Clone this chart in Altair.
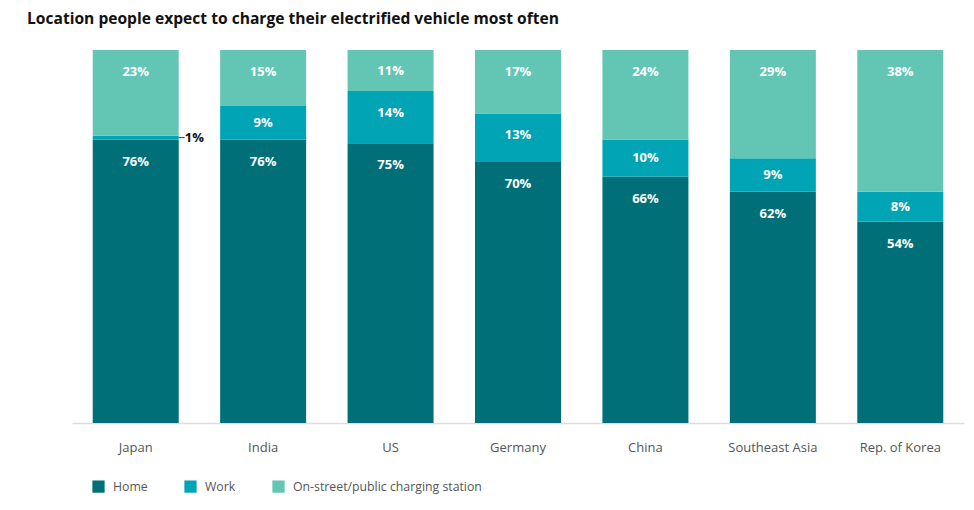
import altair as alt
import pandas as pd

countries = ["Japan", "India", "US", "Germany", "China", "Southeast Asia", "Rep. of Korea"]
home = [76, 76, 75, 70, 66, 62, 54]
work = [1, 9, 14, 13, 10, 9, 8]
public = [23, 15, 11, 17, 24, 29, 38]
categories = ["Home", "Work", "On-street/public charging station"]
colors = ["#006F78", "#00A4B4", "#63C6B5"]

rows = []
for i, c in enumerate(countries):
    base = 0
    for k, (cat, vals) in enumerate(zip(categories, [home, work, public])):
        v = vals[i]
        top = base + v
        rows.append({
            "country": c, "category": cat, "value": v, "order": k,
            "y0": base, "y1": top,
            "label": f"{v}%",
            "label_y": top - min(5.9, v / 2),
            "inside": v >= 5,
        })
        base = top
df = pd.DataFrame(rows)

x = alt.X("country:N", sort=countries, title=None,
          scale=alt.Scale(paddingInner=0.325, paddingOuter=0.1625),
          axis=alt.Axis(labelAngle=0, labelFont="Open Sans", labelFontSize=13,
                        labelColor="#555555", labelPadding=18, ticks=False,
                        domainColor="#dddddd", domainWidth=1.5))
yscale = alt.Scale(domain=[0, 100], nice=False)

bars = alt.Chart(df).mark_bar(size=86).encode(
    x=x,
    y=alt.Y("y0:Q", scale=yscale, axis=None),
    y2="y1:Q",
    color=alt.Color("category:N", scale=alt.Scale(domain=categories, range=colors),
                    sort=categories,
                    legend=alt.Legend(title=None, orient="none", direction="horizontal",
                                      legendX=20, legendY=430, symbolType="square",
                                      symbolSize=150, symbolStrokeWidth=0,
                                      labelFont="Open Sans", labelFontSize=12.3,
                                      labelColor="#555555", labelOffset=8,
                                      labelLimit=400, columnPadding=36)),
    order="order:Q",
)

labels = alt.Chart(df).transform_filter("datum.inside").mark_text(
    font="Open Sans", fontSize=13, fontWeight="bold", color="white", baseline="middle"
).encode(
    x=alt.X("country:N", sort=countries),
    y=alt.Y("label_y:Q", scale=yscale),
    text="label:N",
)

small = df[~df["inside"]]
small_labels = alt.Chart(small).mark_text(
    font="Open Sans", fontSize=13, fontWeight="bold", color="#111111",
    baseline="middle", align="left", dx=49
).encode(
    x=alt.X("country:N", sort=countries),
    y=alt.Y("label_y:Q", scale=yscale),
    text="label:N",
)
leader = alt.Chart(small).mark_rule(color="#333333", strokeWidth=1, xOffset=43, x2Offset=49).encode(
    x=alt.X("country:N", sort=countries),
    x2="country:N",
    y=alt.Y("label_y:Q", scale=yscale),
)

chart = alt.layer(bars, labels, leader, small_labels).properties(
    width=892, height=373,
    title=alt.TitleParams("Location people expect to charge their electrified vehicle most often",
                          anchor="start", font="Open Sans", fontSize=15.6, fontWeight="bold",
                          color="#111111", dx=-45, offset=22),
    autosize=alt.AutoSizeParams(type="none"),
    padding={"left": 64, "top": 42, "right": 2, "bottom": 85},
).configure_view(stroke=None)

chart.save("out.html", embed_options={"renderer": "svg", "actions": False})
